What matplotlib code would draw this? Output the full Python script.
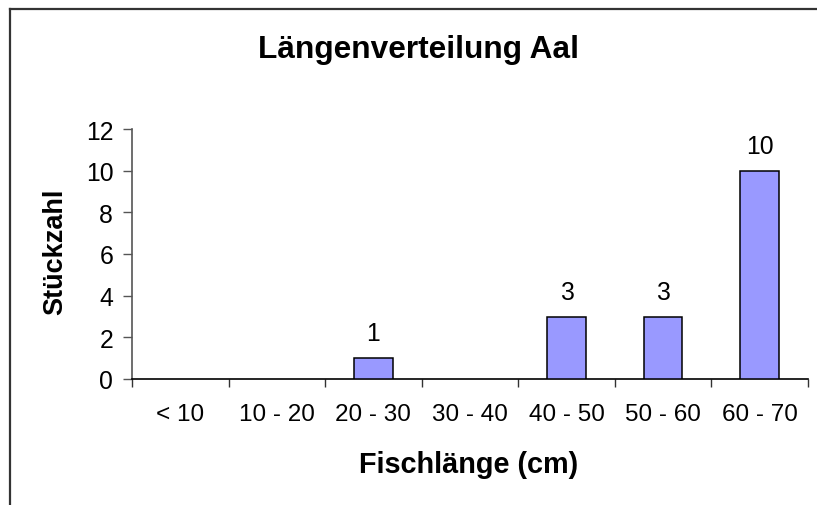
import matplotlib
matplotlib.use("Agg")
import matplotlib.pyplot as plt
from matplotlib.lines import Line2D
import numpy as np

categories = ["< 10", "10 - 20", "20 - 30", "30 - 40", "40 - 50", "50 - 60", "60 - 70"]
counts = [0, 0, 1, 0, 3, 3, 10]
yticks = [0, 2, 4, 6, 8, 10, 12]

plt.rcParams['font.family'] = ['Liberation Sans', 'DejaVu Sans']

fig = plt.figure(figsize=(8.17, 5.06), dpi=100)
ax = fig.add_axes([132/817, 1-380/506, (808-132)/817, 250/506])

x = np.arange(len(categories))
vals = np.array(counts, dtype=float)
nz = vals > 0
ax.bar(x[nz], vals[nz], width=0.4, color='#9999FF', edgecolor='black', linewidth=1.1, zorder=3)
for xi, v in zip(x, counts):
    if v > 0:
        ax.text(xi, v + 0.85, str(v), ha='center', va='baseline', fontsize=17.8)

ax.set_xlim(-0.5, len(categories) - 0.5)
ax.set_ylim(0, 12)
ax.set_yticks(yticks)
ax.set_xticks(x)
ax.set_xticklabels(categories)
ax.set_xticks(np.arange(-0.5, len(categories)), minor=True)
ax.tick_params(axis='x', which='major', length=0, pad=17, labelsize=17.5)
ax.tick_params(axis='x', which='minor', length=6, width=1, color='#333333', direction='out')
ax.tick_params(axis='y', length=6.5, width=1, color='#555555', pad=7, labelsize=17.8)

for s in ['top', 'right']:
    ax.spines[s].set_visible(False)
ax.spines['left'].set_color('#555555')
ax.spines['left'].set_linewidth(1.2)
ax.spines['bottom'].set_color('black')
ax.spines['bottom'].set_linewidth(1.2)

fig.text(418/817, 1-58/506, "Längenverteilung Aal", ha='center', va='baseline',
         fontsize=22.8, fontweight='bold')
fig.text(469/817, 1-473/506, "Fischlänge (cm)", ha='center', va='baseline',
         fontsize=20.8, fontweight='bold')
fig.text(62/817, 1-252/506, "Stückzahl", ha='center', va='baseline', rotation=90,
         fontsize=19.5, fontweight='bold', rotation_mode='anchor')

# outer frame (top and left edges)
fig.add_artist(Line2D([10/817, 1], [1-10/506, 1-10/506], color='#333333', linewidth=1.6,
                      transform=fig.transFigure))
fig.add_artist(Line2D([10/817, 10/817], [1-10/506, 0], color='#333333', linewidth=1.6,
                      transform=fig.transFigure))

fig.savefig("out.png", dpi=100)
